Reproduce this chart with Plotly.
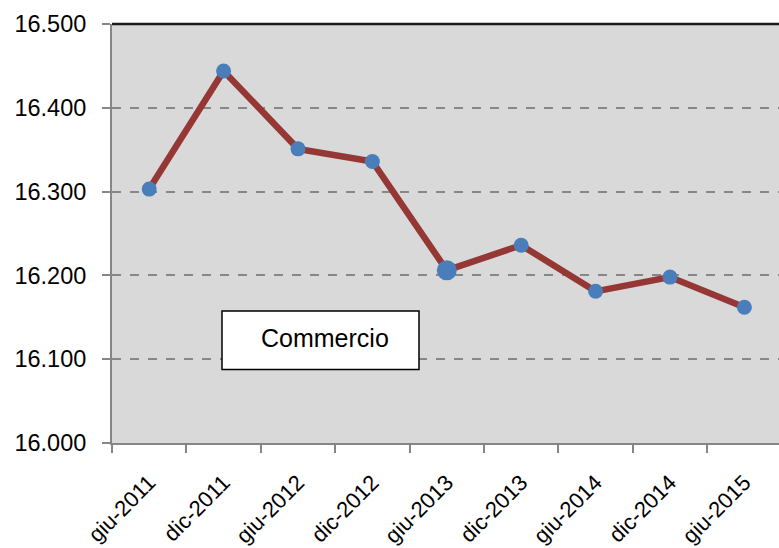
import plotly.graph_objects as go

categories = ["giu-2011", "dic-2011", "giu-2012", "dic-2012", "giu-2013",
              "dic-2013", "giu-2014", "dic-2014", "giu-2015"]
values = [16303, 16444, 16351, 16336, 16206, 16236, 16181, 16198, 16162]
marker_sizes = [15, 15, 15, 15, 20, 15, 15, 15, 15]
label_text = "Commercio"

FONT = "Liberation Sans"

L, T, PLOT_H = 112, 24, 422
W, H = 779, 548
CAT_W = 74.4

fig = go.Figure()
fig.add_trace(go.Scatter(
    x=categories, y=values, mode="lines+markers",
    line=dict(color="#953735", width=6.5),
    marker=dict(color="#4a7ebb", size=marker_sizes, opacity=1, line=dict(width=0)),
    showlegend=False,
))

plot_w = W - L
fig.update_layout(
    width=W, height=H,
    margin=dict(l=L, r=0, t=T, b=H - T - PLOT_H),
    paper_bgcolor="white", plot_bgcolor="#d9d9d9",
    separators=",.",
    font=dict(family=FONT, color="black"),
    xaxis=dict(
        type="category", range=[-0.5, -0.5 + plot_w / CAT_W],
        tickson="boundaries", ticks="outside", ticklen=8, tickwidth=1.5,
        tickcolor="#868686", tickangle=-45, ticklabelstandoff=16,
        showline=True, linecolor="#868686", linewidth=2,
        showgrid=False, zeroline=False,
        tickfont=dict(family=FONT, size=22, color="black"),
    ),
    yaxis=dict(
        range=[16000, 16500], dtick=100, tickformat=",.0f",
        ticks="outside", ticklen=8, tickwidth=1.5, tickcolor="#868686",
        showline=True, linecolor="#868686", linewidth=2,
        showgrid=True, gridcolor="#878787", gridwidth=1.5, griddash="dash",
        zeroline=False, ticklabelstandoff=11,
        tickfont=dict(family=FONT, size=23.5, color="black"),
    ),
)

# top border line
fig.add_shape(type="line", xref="paper", yref="paper", x0=0, x1=1, y0=1, y1=1,
              line=dict(color="#1a1a1a", width=2.5))

# label box (reference pixels: x 222-419, y 313-372)
fig.add_shape(type="rect", xref="paper", yref="paper",
              x0=(222 - L) / plot_w, x1=(419 - L) / plot_w,
              y0=(T + PLOT_H - 372) / PLOT_H, y1=(T + PLOT_H - 313) / PLOT_H,
              fillcolor="white", line=dict(color="black", width=1.5))
fig.add_annotation(xref="paper", yref="paper",
                   x=(325 - L) / plot_w, y=(T + PLOT_H - 340) / PLOT_H,
                   xanchor="center", yanchor="middle",
                   text=label_text, showarrow=False,
                   font=dict(family=FONT, size=25, color="black"))

fig.write_html(
    "out.html",
    config={"displayModeBar": False},
    post_script=("document.body.style.margin='0';"
                 "document.body.style.overflow='hidden';"
                 "document.documentElement.style.overflow='hidden';"),
)
